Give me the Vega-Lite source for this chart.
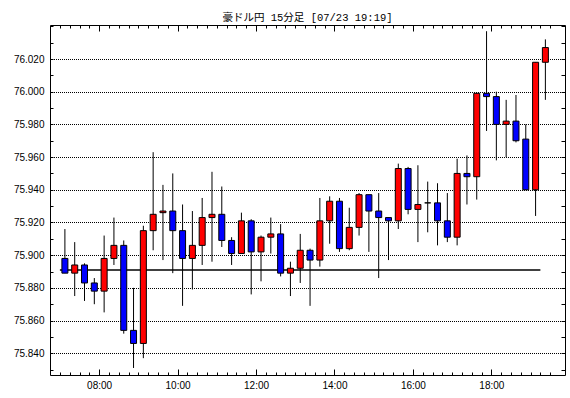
{
  "$schema": "https://vega.github.io/schema/vega-lite/v6.json",
  "width": 515,
  "height": 350,
  "autosize": {"type": "none"},
  "padding": {"left": 50, "top": 25, "right": 5, "bottom": 23},
  "background": "#ffffff",
  "title": {"text": "豪ドル円 15分足 [07/23 19:19]", "font": "Liberation Mono, Noto Sans CJK JP", "fontSize": 10.5, "fontWeight": "normal", "color": "#000000", "anchor": "middle", "offset": -2},
  "config": {
    "view": {"stroke": "#000000", "strokeWidth": 1},
    "axis": {"labelFont": "Liberation Sans", "labelFontSize": 10, "labelColor": "#000000", "tickColor": "#000000", "domain": false, "grid": false}
  },
  "datasets": {
    "candles": [
      {"t": "2024-07-23T07:00:00Z", "o": 75.898, "h": 75.916, "l": 75.889, "c": 75.889},
      {"t": "2024-07-23T07:15:00Z", "o": 75.889, "h": 75.908, "l": 75.875, "c": 75.894},
      {"t": "2024-07-23T07:30:00Z", "o": 75.894, "h": 75.895, "l": 75.872, "c": 75.883},
      {"t": "2024-07-23T07:45:00Z", "o": 75.883, "h": 75.886, "l": 75.870, "c": 75.878},
      {"t": "2024-07-23T08:00:00Z", "o": 75.878, "h": 75.912, "l": 75.865, "c": 75.898},
      {"t": "2024-07-23T08:15:00Z", "o": 75.898, "h": 75.923, "l": 75.894, "c": 75.906},
      {"t": "2024-07-23T08:30:00Z", "o": 75.906, "h": 75.909, "l": 75.852, "c": 75.854},
      {"t": "2024-07-23T08:45:00Z", "o": 75.854, "h": 75.880, "l": 75.831, "c": 75.846},
      {"t": "2024-07-23T09:00:00Z", "o": 75.846, "h": 75.918, "l": 75.837, "c": 75.915},
      {"t": "2024-07-23T09:15:00Z", "o": 75.915, "h": 75.963, "l": 75.903, "c": 75.925},
      {"t": "2024-07-23T09:30:00Z", "o": 75.926, "h": 75.943, "l": 75.897, "c": 75.927},
      {"t": "2024-07-23T09:45:00Z", "o": 75.927, "h": 75.950, "l": 75.889, "c": 75.915},
      {"t": "2024-07-23T10:00:00Z", "o": 75.915, "h": 75.931, "l": 75.869, "c": 75.898},
      {"t": "2024-07-23T10:15:00Z", "o": 75.898, "h": 75.927, "l": 75.879, "c": 75.906},
      {"t": "2024-07-23T10:30:00Z", "o": 75.906, "h": 75.935, "l": 75.894, "c": 75.923},
      {"t": "2024-07-23T10:45:00Z", "o": 75.923, "h": 75.951, "l": 75.896, "c": 75.925},
      {"t": "2024-07-23T11:00:00Z", "o": 75.925, "h": 75.942, "l": 75.905, "c": 75.909},
      {"t": "2024-07-23T11:15:00Z", "o": 75.909, "h": 75.911, "l": 75.894, "c": 75.901},
      {"t": "2024-07-23T11:30:00Z", "o": 75.901, "h": 75.926, "l": 75.901, "c": 75.921},
      {"t": "2024-07-23T11:45:00Z", "o": 75.921, "h": 75.922, "l": 75.876, "c": 75.902},
      {"t": "2024-07-23T12:00:00Z", "o": 75.902, "h": 75.912, "l": 75.884, "c": 75.911},
      {"t": "2024-07-23T12:15:00Z", "o": 75.911, "h": 75.923, "l": 75.901, "c": 75.913},
      {"t": "2024-07-23T12:30:00Z", "o": 75.913, "h": 75.919, "l": 75.887, "c": 75.889},
      {"t": "2024-07-23T12:45:00Z", "o": 75.889, "h": 75.896, "l": 75.875, "c": 75.892},
      {"t": "2024-07-23T13:00:00Z", "o": 75.892, "h": 75.913, "l": 75.883, "c": 75.903},
      {"t": "2024-07-23T13:15:00Z", "o": 75.903, "h": 75.904, "l": 75.869, "c": 75.897},
      {"t": "2024-07-23T13:30:00Z", "o": 75.897, "h": 75.935, "l": 75.893, "c": 75.921},
      {"t": "2024-07-23T13:45:00Z", "o": 75.921, "h": 75.936, "l": 75.907, "c": 75.933},
      {"t": "2024-07-23T14:00:00Z", "o": 75.933, "h": 75.935, "l": 75.902, "c": 75.904},
      {"t": "2024-07-23T14:15:00Z", "o": 75.904, "h": 75.929, "l": 75.903, "c": 75.917},
      {"t": "2024-07-23T14:30:00Z", "o": 75.917, "h": 75.938, "l": 75.912, "c": 75.937},
      {"t": "2024-07-23T14:45:00Z", "o": 75.937, "h": 75.937, "l": 75.902, "c": 75.927},
      {"t": "2024-07-23T15:00:00Z", "o": 75.927, "h": 75.938, "l": 75.886, "c": 75.923},
      {"t": "2024-07-23T15:15:00Z", "o": 75.923, "h": 75.923, "l": 75.897, "c": 75.921},
      {"t": "2024-07-23T15:30:00Z", "o": 75.921, "h": 75.956, "l": 75.916, "c": 75.953},
      {"t": "2024-07-23T15:45:00Z", "o": 75.953, "h": 75.954, "l": 75.925, "c": 75.928},
      {"t": "2024-07-23T16:00:00Z", "o": 75.928, "h": 75.955, "l": 75.908, "c": 75.931},
      {"t": "2024-07-23T16:15:00Z", "o": 75.932, "h": 75.945, "l": 75.914, "c": 75.932},
      {"t": "2024-07-23T16:30:00Z", "o": 75.932, "h": 75.944, "l": 75.906, "c": 75.921},
      {"t": "2024-07-23T16:45:00Z", "o": 75.921, "h": 75.938, "l": 75.908, "c": 75.911},
      {"t": "2024-07-23T17:00:00Z", "o": 75.911, "h": 75.959, "l": 75.906, "c": 75.950},
      {"t": "2024-07-23T17:15:00Z", "o": 75.950, "h": 75.961, "l": 75.931, "c": 75.948},
      {"t": "2024-07-23T17:30:00Z", "o": 75.948, "h": 75.999, "l": 75.934, "c": 75.999},
      {"t": "2024-07-23T17:45:00Z", "o": 75.999, "h": 76.037, "l": 75.976, "c": 75.997},
      {"t": "2024-07-23T18:00:00Z", "o": 75.997, "h": 76.000, "l": 75.958, "c": 75.980},
      {"t": "2024-07-23T18:15:00Z", "o": 75.980, "h": 75.995, "l": 75.960, "c": 75.982},
      {"t": "2024-07-23T18:30:00Z", "o": 75.982, "h": 75.998, "l": 75.969, "c": 75.970},
      {"t": "2024-07-23T18:45:00Z", "o": 75.971, "h": 75.980, "l": 75.940, "c": 75.940},
      {"t": "2024-07-23T19:00:00Z", "o": 75.940, "h": 76.018, "l": 75.924, "c": 76.018},
      {"t": "2024-07-23T19:15:00Z", "o": 76.018, "h": 76.032, "l": 75.995, "c": 76.027}
    ],
    "level": [
      {"start": "2024-07-23T07:00:00Z", "end": "2024-07-23T19:15:00Z", "price": 75.891}
    ]
  },
  "resolve": {"axis": {"x": "independent", "y": "independent"}},
  "layer": [
    {
      "data": {"name": "level"},
      "mark": {"type": "rule", "color": "#000000", "strokeWidth": 1.5},
      "encoding": {
        "x": {"field": "start", "type": "temporal", "title": null,
          "scale": {"nice": false, "domain": [1721717550000, 1721763900000]},
          "axis": {"orient": "bottom", "values": [1721721600000, 1721728800000, 1721736000000, 1721743200000, 1721750400000, 1721757600000], "tickSize": 6, "offset": -6, "labelExpr": "utcFormat(datum.value, '%H:%M')", "labelOverlap": false, "labelFlush": false, "labelPadding": 5}},
        "x2": {"field": "end"},
        "y": {"field": "price", "type": "quantitative", "title": null,
          "scale": {"domain": [75.8267, 76.0408], "nice": false, "zero": false},
          "axis": {"orient": "left", "values": [75.83,75.84,75.85,75.86,75.87,75.88,75.89,75.90,75.91,75.92,75.93,75.94,75.95,75.96,75.97,75.98,75.99,76.00,76.01,76.02,76.03,76.04], "tickSize": 3, "offset": -3, "labelExpr": "(round(datum.value*1000) % 20 == 0 && datum.value < 76.03) ? format(datum.value, '.3f') : ''", "labelOverlap": false, "labelFlush": false, "labelPadding": 6}}
      }
    },
    {
      "data": {"name": "candles"},
      "mark": {"type": "rule", "color": "#000000", "strokeWidth": 1, "xOffset": 5},
      "encoding": {
        "x": {"field": "t", "type": "temporal", "title": null,
          "axis": {"orient": "top", "values": [1721721600000, 1721728800000, 1721736000000, 1721743200000, 1721750400000, 1721757600000], "tickSize": 6, "offset": -6, "labels": false}},
        "y": {"field": "l", "type": "quantitative", "title": null,
          "axis": {"orient": "right", "values": [75.83,75.84,75.85,75.86,75.87,75.88,75.89,75.90,75.91,75.92,75.93,75.94,75.95,75.96,75.97,75.98,75.99,76.00,76.01,76.02,76.03,76.04], "tickSize": 4, "offset": -4, "labels": false}},
        "y2": {"field": "h"}
      }
    },
    {
      "data": {"name": "candles"},
      "mark": {"type": "bar", "size": 6, "stroke": "#000000", "strokeWidth": 1, "xOffset": 5},
      "encoding": {
        "x": {"field": "t", "type": "temporal", "title": null,
          "axis": {"orient": "bottom", "values": [1721718000000,1721718900000,1721719800000,1721720700000,1721721600000,1721722500000,1721723400000,1721724300000,1721725200000,1721726100000,1721727000000,1721727900000,1721728800000,1721729700000,1721730600000,1721731500000,1721732400000,1721733300000,1721734200000,1721735100000,1721736000000,1721736900000,1721737800000,1721738700000,1721739600000,1721740500000,1721741400000,1721742300000,1721743200000,1721744100000,1721745000000,1721745900000,1721746800000,1721747700000,1721748600000,1721749500000,1721750400000,1721751300000,1721752200000,1721753100000,1721754000000,1721754900000,1721755800000,1721756700000,1721757600000,1721758500000,1721759400000,1721760300000,1721761200000,1721762100000,1721763000000], "tickSize": 3, "offset": -3, "labels": false}},
        "y": {"field": "o", "type": "quantitative", "title": null,
          "axis": {"orient": "left", "values": [75.84,75.86,75.88,75.90,75.92,75.94,75.96,75.98,76.00,76.02], "ticks": false, "labels": false, "grid": true, "gridColor": "#000000", "gridDash": [1, 1], "gridDashOffset": 0.5, "gridWidth": 1}},
        "y2": {"field": "c"},
        "fill": {"condition": [{"test": "datum.c > datum.o", "value": "#ff0000"}, {"test": "datum.c < datum.o", "value": "#0000ff"}], "value": "#000000"}
      }
    },
    {
      "data": {"name": "level"},
      "mark": {"type": "rule", "color": "#000000", "strokeWidth": 1, "opacity": 0},
      "encoding": {
        "x": {"field": "start", "type": "temporal", "title": null,
          "axis": {"orient": "top", "values": [1721718000000,1721718900000,1721719800000,1721720700000,1721721600000,1721722500000,1721723400000,1721724300000,1721725200000,1721726100000,1721727000000,1721727900000,1721728800000,1721729700000,1721730600000,1721731500000,1721732400000,1721733300000,1721734200000,1721735100000,1721736000000,1721736900000,1721737800000,1721738700000,1721739600000,1721740500000,1721741400000,1721742300000,1721743200000,1721744100000,1721745000000,1721745900000,1721746800000,1721747700000,1721748600000,1721749500000,1721750400000,1721751300000,1721752200000,1721753100000,1721754000000,1721754900000,1721755800000,1721756700000,1721757600000,1721758500000,1721759400000,1721760300000,1721761200000,1721762100000,1721763000000], "tickSize": 3, "offset": -3, "labels": false}},
        "x2": {"field": "end"},
        "y": {"field": "price", "type": "quantitative", "axis": null}
      }
    }
  ]
}
